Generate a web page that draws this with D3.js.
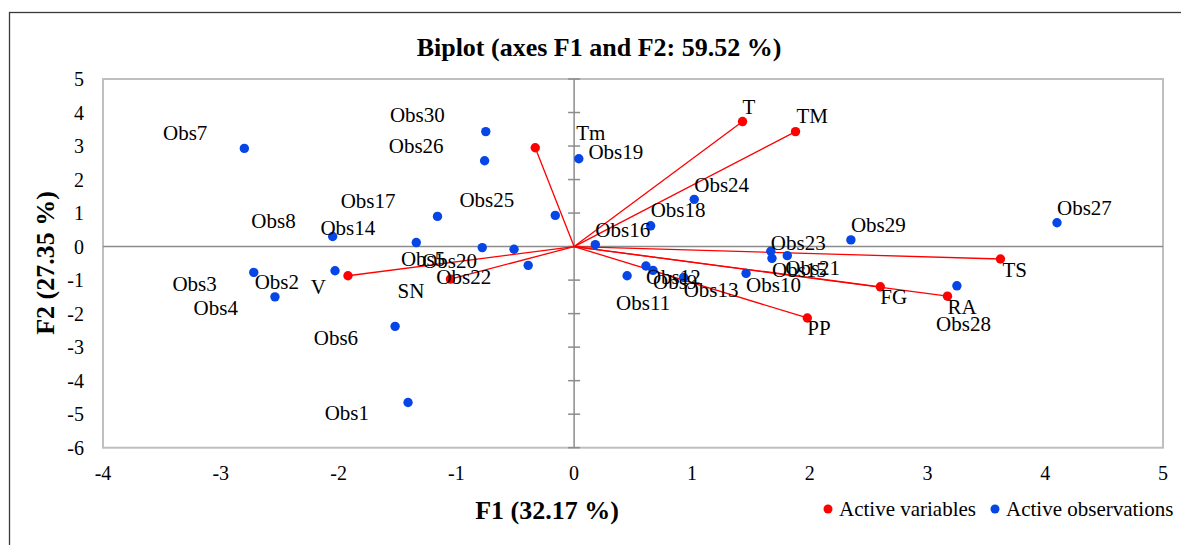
<!DOCTYPE html>
<html>
<head>
<meta charset="utf-8">
<script src="https://cdn.jsdelivr.net/npm/d3@7"></script>
<style>
    body { margin: 0; background: #fff; }
    svg { display: block; font-family: "Liberation Serif", "Times New Roman", serif; }
</style>
</head>
<body>
<svg id="chart" width="1181" height="545"></svg>
<script>
'use strict';

// observations (blue points)
const obsNames = ['Obs1', 'Obs2', 'Obs3', 'Obs4', 'Obs5', 'Obs6', 'Obs7', 'Obs8', 'Obs9', 'Obs10',
    'Obs11', 'Obs12', 'Obs13', 'Obs14', 'Obs15', 'Obs16', 'Obs17', 'Obs18', 'Obs19', 'Obs20',
    'Obs21', 'Obs22', 'Obs23', 'Obs24', 'Obs25', 'Obs26', 'Obs27', 'Obs28', 'Obs29', 'Obs30'];
const obsF1 = [-1.41, -2.03, -2.72, -2.54, -0.78, -1.52, -2.80, -2.05, 0.67, 1.46,
    0.45, 0.61, 0.93, -1.34, 1.68, 0.18, -1.16, 0.65, 0.04, -0.51,
    1.81, -0.39, 1.67, 1.02, -0.16, -0.76, 4.10, 3.25, 2.35, -0.75];
const obsF2 = [-4.65, -0.72, -0.77, -1.50, -0.03, -2.38, 2.93, 0.30, -0.71, -0.80,
    -0.87, -0.58, -0.92, 0.12, -0.35, 0.06, 0.90, 0.62, 2.62, -0.08,
    -0.27, -0.56, -0.14, 1.41, 0.93, 2.56, 0.71, -1.17, 0.20, 3.43];

// active variables (red vectors)
const varNames = ['T', 'TM', 'Tm', 'TS', 'FG', 'RA', 'PP', 'V', 'SN'];
const varF1 = [1.43, 1.88, -0.33, 3.62, 2.60, 3.17, 1.98, -1.92, -1.05];
const varF2 = [3.73, 3.43, 2.95, -0.37, -1.20, -1.48, -2.13, -0.87, -0.97];

// axes
const xTicks = [-4, -3, -2, -1, 0, 1, 2, 3, 4, 5];
const yTicks = [-6, -5, -4, -3, -2, -1, 0, 1, 2, 3, 4, 5];
const titleText = 'Biplot (axes F1 and F2: 59.52 %)';
const xTitle = 'F1 (32.17 %)';
const yTitle = 'F2 (27.35 %)';
const legendLabels = ['Active variables', 'Active observations'];

// label placement: [anchor, dx, dy] in pixels from the point
const labelPlacement = {
    Obs1: ['end', -39, 10.5], Obs2: ['end', -36, 10.5], Obs3: ['end', -37, 11], Obs4: ['end', -37, 10.6],
    Obs5: ['end', -37, 11], Obs6: ['end', -37, 11], Obs7: ['end', -37, -15.6], Obs8: ['end', -37, -16],
    Obs9: ['start', 0, 11], Obs10: ['start', 0, 11], Obs11: ['middle', 16, 26.6], Obs12: ['start', 0, 10.7],
    Obs13: ['start', 0, 12], Obs14: ['end', -41, -15], Obs15: ['start', 0, 11.7], Obs16: ['start', 0, -14.7],
    Obs17: ['end', -42, -15.6], Obs18: ['start', 0, -16], Obs19: ['start', 9.6, -7], Obs20: ['end', -37, 11],
    Obs21: ['start', -2, 11.6], Obs22: ['end', -37, 11], Obs23: ['start', 0, -8.6], Obs24: ['start', 0, -15],
    Obs25: ['end', -41, -15.3], Obs26: ['end', -41, -15], Obs27: ['start', 0, -15.4], Obs28: ['middle', 6.6, 38],
    Obs29: ['start', 0, -15.7], Obs30: ['end', -41, -16.7],
    T: ['start', 0, -15], TM: ['start', 1, -16], Tm: ['start', 41, -15], TS: ['start', 2, 11],
    FG: ['start', 0, 10], RA: ['start', 0, 10.4], PP: ['start', 0, 10], V: ['end', -22, 11], SN: ['end', -26, 11.7]
};

const RED = '#ff0000';
const BLUE = '#0645e6';

const svg = d3.select('#chart');

// plot area
const plot = { left: 103, right: 1163, top: 79, bottom: 447.7 };
const x = d3.scaleLinear().domain([-4, 5]).range([plot.left, plot.right]);
const y = d3.scaleLinear().domain([-6, 5]).range([plot.bottom, plot.top]);

// outer chart frame (runs off the right and bottom edges)
svg.append('rect')
    .attr('x', 9.5).attr('y', 12.5)
    .attr('width', 1300).attr('height', 700)
    .attr('fill', 'none')
    .attr('stroke', '#3a3a3a')
    .attr('stroke-width', 1.3);

// title
svg.append('text')
    .attr('x', 599).attr('y', 56)
    .attr('text-anchor', 'middle')
    .attr('font-size', 26).attr('font-weight', 'bold')
    .text(titleText);

// plot border
svg.append('rect')
    .attr('x', plot.left).attr('y', plot.top)
    .attr('width', plot.right - plot.left).attr('height', plot.bottom - plot.top)
    .attr('fill', 'none')
    .attr('stroke', '#bfbfbf')
    .attr('stroke-width', 2);

// zero lines
svg.append('line')
    .attr('x1', plot.left).attr('x2', plot.right)
    .attr('y1', y(0)).attr('y2', y(0))
    .attr('stroke', '#8c8c8c').attr('stroke-width', 1.5);
svg.append('line')
    .attr('x1', x(0)).attr('x2', x(0))
    .attr('y1', plot.top).attr('y2', plot.bottom)
    .attr('stroke', '#8c8c8c').attr('stroke-width', 1.5);

// tick marks on the vertical axis
svg.append('g').selectAll('line')
    .data(yTicks)
    .enter()
    .append('line')
    .attr('x1', x(0) - 6).attr('x2', x(0) + 6)
    .attr('y1', d => y(d)).attr('y2', d => y(d))
    .attr('stroke', '#8c8c8c').attr('stroke-width', 1.5);

// tick labels
svg.append('g').selectAll('text')
    .data(yTicks)
    .enter()
    .append('text')
    .attr('x', 84)
    .attr('y', d => y(d))
    .attr('dy', '0.35em')
    .attr('text-anchor', 'end')
    .attr('font-size', 20)
    .text(d => d);

svg.append('g').selectAll('text')
    .data(xTicks)
    .enter()
    .append('text')
    .attr('x', d => x(d))
    .attr('y', 473)
    .attr('dy', '0.35em')
    .attr('text-anchor', 'middle')
    .attr('font-size', 20)
    .text(d => d);

// axis titles
svg.append('text')
    .attr('x', 547).attr('y', 519)
    .attr('text-anchor', 'middle')
    .attr('font-size', 26).attr('font-weight', 'bold')
    .text(xTitle);

svg.append('text')
    .attr('transform', 'translate(54, 263) rotate(-90)')
    .attr('text-anchor', 'middle')
    .attr('font-size', 26).attr('font-weight', 'bold')
    .text(yTitle);

// build point lists
const obs = obsNames.map((name, i) => ({ name, f1: obsF1[i], f2: obsF2[i] }));
const vars = varNames.map((name, i) => ({ name, f1: varF1[i], f2: varF2[i] }));

// variable vectors
svg.append('g').selectAll('line')
    .data(vars)
    .enter()
    .append('line')
    .attr('x1', x(0)).attr('y1', y(0))
    .attr('x2', d => x(d.f1)).attr('y2', d => y(d.f2))
    .attr('stroke', RED).attr('stroke-width', 1.3);

// observation points
svg.append('g').selectAll('circle')
    .data(obs)
    .enter()
    .append('circle')
    .attr('cx', d => x(d.f1)).attr('cy', d => y(d.f2))
    .attr('r', 4.7)
    .attr('fill', BLUE);

// variable points
svg.append('g').selectAll('circle')
    .data(vars)
    .enter()
    .append('circle')
    .attr('cx', d => x(d.f1)).attr('cy', d => y(d.f2))
    .attr('r', 4.7)
    .attr('fill', RED);

// labels
svg.append('g').selectAll('text')
    .data(obs.concat(vars))
    .enter()
    .append('text')
    .attr('x', d => x(d.f1) + labelPlacement[d.name][1])
    .attr('y', d => y(d.f2) + labelPlacement[d.name][2])
    .attr('dy', '0.35em')
    .attr('text-anchor', d => labelPlacement[d.name][0])
    .attr('font-size', 21)
    .attr('fill', '#000')
    .text(d => d.name);

// legend
const legend = svg.append('g');
const legendColors = [RED, BLUE];
const legendX = [828, 995];
legend.selectAll('circle')
    .data(legendLabels)
    .enter()
    .append('circle')
    .attr('cx', (d, i) => legendX[i]).attr('cy', 509)
    .attr('r', 4.5)
    .attr('fill', (d, i) => legendColors[i]);
legend.selectAll('text')
    .data(legendLabels)
    .enter()
    .append('text')
    .attr('x', (d, i) => legendX[i] + 11).attr('y', 509)
    .attr('dy', '0.35em')
    .attr('font-size', 21)
    .text(d => d);
</script>
</body>
</html>
